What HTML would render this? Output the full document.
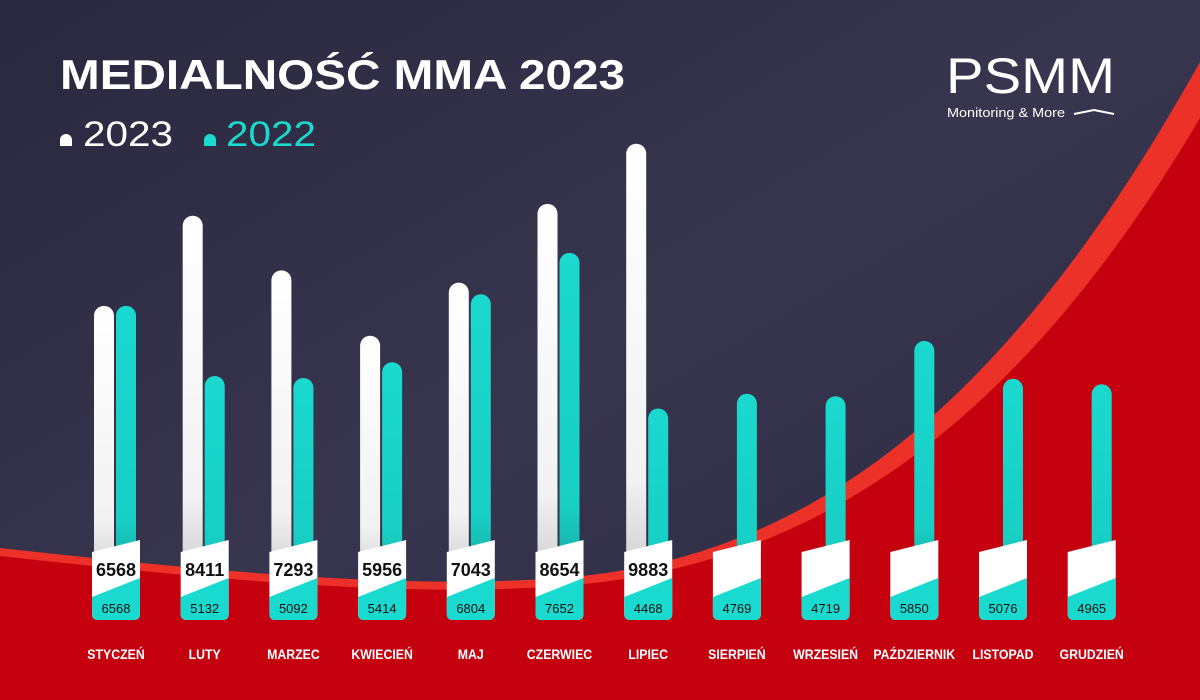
<!DOCTYPE html>
<html><head><meta charset="utf-8">
<style>
html,body{margin:0;padding:0;width:1200px;height:700px;overflow:hidden;background:#2b2a40}
svg{display:block}
text{font-family:"Liberation Sans","DejaVu Sans",sans-serif}
</style></head>
<body>
<svg id="chart" width="1200" height="700" viewBox="0 0 1200 700">
<defs>
<linearGradient id="bgG" x1="0" y1="0" x2="1" y2="1">
<stop offset="0" stop-color="#29283e"/><stop offset="0.5" stop-color="#38364f"/><stop offset="1" stop-color="#2a2940"/>
</linearGradient>
<linearGradient id="wG" x1="0" y1="0" x2="0" y2="1">
<stop offset="0" stop-color="#ffffff"/><stop offset="0.75" stop-color="#f2f2f2"/><stop offset="1" stop-color="#c9c9c9"/>
</linearGradient>
<linearGradient id="tG" x1="0" y1="0" x2="0" y2="1">
<stop offset="0" stop-color="#1ad9cf"/><stop offset="0.75" stop-color="#18cfc4"/><stop offset="1" stop-color="#15a19a"/>
</linearGradient>
</defs>
<rect x="0" y="0" width="1200" height="700" fill="url(#bgG)"/>
<path d="M0,548 C200,570 400,590 560,578 C800,560 1000,420 1200,62 L1200,700 L0,700 Z" fill="#ec3128"/>
<path d="M0,556 C200,578 400,598 560,586 C800,570 1010,440 1200,118 L1200,700 L0,700 Z" fill="#c5000f"/>
<text x="60" y="89" font-size="42" font-weight="bold" fill="#fff" textLength="565" lengthAdjust="spacingAndGlyphs">MEDIALNOŚĆ MMA 2023</text>
<g>
<path d="M60,146 v-6 a6,6 0 0 1 12,0 v6 z" fill="#fff"/>
<text x="83" y="146" font-size="35" fill="#fff" textLength="90" lengthAdjust="spacingAndGlyphs">2023</text>
<path d="M204,146 v-6 a6,6 0 0 1 12,0 v6 z" fill="#1ad9cf"/>
<text x="226" y="146" font-size="35" fill="#1ad9cf" textLength="90" lengthAdjust="spacingAndGlyphs">2022</text>
</g>
<g>
<text x="946" y="93" font-size="50" fill="#fff" textLength="169" lengthAdjust="spacingAndGlyphs">PSMM</text>
<text x="947" y="117" font-size="13" fill="#fff" textLength="118" lengthAdjust="spacingAndGlyphs">Monitoring &amp; More</text>
<path d="M1074,114 L1094,110 L1114,114" stroke="#fff" stroke-width="2" fill="none"/>
</g>
<g id="bars"></g>
</svg>
<script>
const months = ["STYCZEŃ","LUTY","MARZEC","KWIECIEŃ","MAJ","CZERWIEC","LIPIEC","SIERPIEŃ","WRZESIEŃ","PAŹDZIERNIK","LISTOPAD","GRUDZIEŃ"];
const values2023 = [6568,8411,7293,5956,7043,8654,9883,null,null,null,null,null];
const values2022 = [6568,5132,5092,5414,6804,7652,4468,4769,4719,5850,5076,4965];

const NS = "http://www.w3.org/2000/svg";
const g = document.getElementById("bars");
function xCenter(i){ return 118 + i*88.7; }
function yScale(v){ return 627 - 0.0489*v; }
function mk(tag, attrs){ const e=document.createElementNS(NS,tag); for(const k in attrs) e.setAttribute(k,attrs[k]); return e; }
function barPath(x,y,w,bottom){ const r=w/2; return `M${x},${bottom} L${x},${y+r} A${r},${r} 0 0 1 ${x+w},${y+r} L${x+w},${bottom} Z`; }

months.forEach((m,i)=>{
  const cx = xCenter(i);
  const grp = mk("g",{});
  
  
  if(values2023[i]!=null){
    const b = mk("path",{d:barPath(cx-24,yScale(values2023[i]),20,590),fill:"url(#wG)"});
    
    
    grp.appendChild(b);
  }
  const t = mk("path",{d:barPath(cx-2,yScale(values2022[i]),20,590),fill:"url(#tG)"});
  
  
  grp.appendChild(t);
  const L=cx-26, R=cx+22;
  const box = mk("path",{d:`M${L},552 L${R},540 L${R},614 Q${R},620 ${R-6},620 L${L+6},620 Q${L},620 ${L},614 Z`,fill:"#ffffff"});
  
  
  grp.appendChild(box);
  const teal = mk("path",{d:`M${L},597 L${R},578 L${R},614 Q${R},620 ${R-6},620 L${L+6},620 Q${L},620 ${L},614 Z`,fill:"#1ad9cf"});
  
  
  grp.appendChild(teal);
  if(values2023[i]!=null){
    const v = mk("text",{x:cx-2,y:576,"font-size":"18","font-weight":"bold","text-anchor":"middle",fill:"#111"});
    v.textContent = values2023[i];
    
    
    grp.appendChild(v);
  }
  const v2 = mk("text",{x:cx-2,y:613,"font-size":"13","text-anchor":"middle",fill:"#111"});
  v2.textContent = values2022[i];
  
  
  grp.appendChild(v2);
  const ml = mk("text",{x:cx-2,y:659,"font-size":"14","font-weight":"bold","text-anchor":"middle",fill:"#fff",transform:`translate(${cx-2},0) scale(0.88,1) translate(${-(cx-2)},0)`});
  ml.textContent = m;
  
  
  grp.appendChild(ml);
  g.appendChild(grp);
});
</script>
</body></html>
